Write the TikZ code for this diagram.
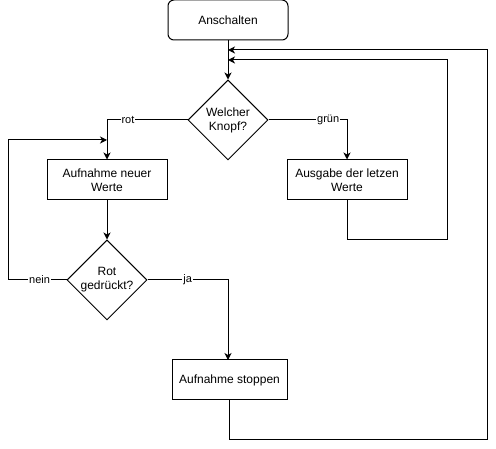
\documentclass[tikz,border=0pt]{standalone}
\usepackage{fontspec}
\setmainfont{Liberation Sans}
\usetikzlibrary{arrows.meta,shapes.geometric}
\begin{document}
\begin{tikzpicture}[x=1pt,y=-1pt,
  box/.style={draw,line width=1pt,minimum width=120pt,minimum height=40pt,align=center,font=\fontsize{12}{14}\selectfont,inner sep=0pt},
  startbox/.style={box,rounded corners=6pt},
  decision/.style={draw,diamond,line width=1pt,minimum width=80pt,minimum height=80pt,inner sep=0pt,align=center,font=\fontsize{12}{14}\selectfont},
  conn/.style={line width=1pt},
  arr/.style={conn,-{Stealth[length=7pt,width=7pt,inset=2pt]}},
  lbl/.style={fill=white,inner sep=1pt,font=\fontsize{11}{13}\selectfont}]
\useasboundingbox (0,0) rectangle (496,449);
\node[startbox] (start) at (228,20) {Anschalten};
\node[decision] (k1) at (228,120) {Welcher\\Knopf?};
\node[box] (neu) at (107,180) {Aufnahme neuer\\Werte};
\node[box] (ausg) at (347,180) {Ausgabe der letzen\\Werte};
\node[decision] (k2) at (107,280) {Rot\\gedrückt?};
\node[box,minimum width=115pt] (stop) at (229.5,380) {Aufnahme stoppen};
\coordinate (rotc) at (107,120);
\coordinate (gruenc) at (347,120);
\coordinate (neinA) at (8,280);
\coordinate (neinB) at (8,140);
\coordinate (neinT) at (107,140);
\coordinate (jac) at (228,280);
\coordinate (jat) at (228,360);
\coordinate (o1) at (229.5,440);
\coordinate (o2) at (487,440);
\coordinate (o3) at (487,50);
\coordinate (oT) at (228,50);
\coordinate (i1) at (347,240);
\coordinate (i2) at (447,240);
\coordinate (i3) at (447,60);
\coordinate (iT) at (228,60);
\draw[arr] (start.south) -- (k1.north);
\draw[arr] (k1.west) -- node[lbl,pos=0.74]{rot} (rotc) -- (neu.north);
\draw[arr] (k1.east) -- node[lbl,pos=0.76]{grün} (gruenc) -- (ausg.north);
\draw[arr] (neu.south) -- (k2.north);
\draw[arr] (k2.west) -- node[lbl,pos=0.46]{nein} (neinA) -- (neinB) -- (neinT);
\draw[arr] (k2.east) -- node[lbl,pos=0.5]{ja} (jac) -- (jat);
\draw[arr] (stop.south) -- (o1) -- (o2) -- (o3) -- (oT);
\draw[arr] (ausg.south) -- (i1) -- (i2) -- (i3) -- (iT);
\end{tikzpicture}
\end{document}
